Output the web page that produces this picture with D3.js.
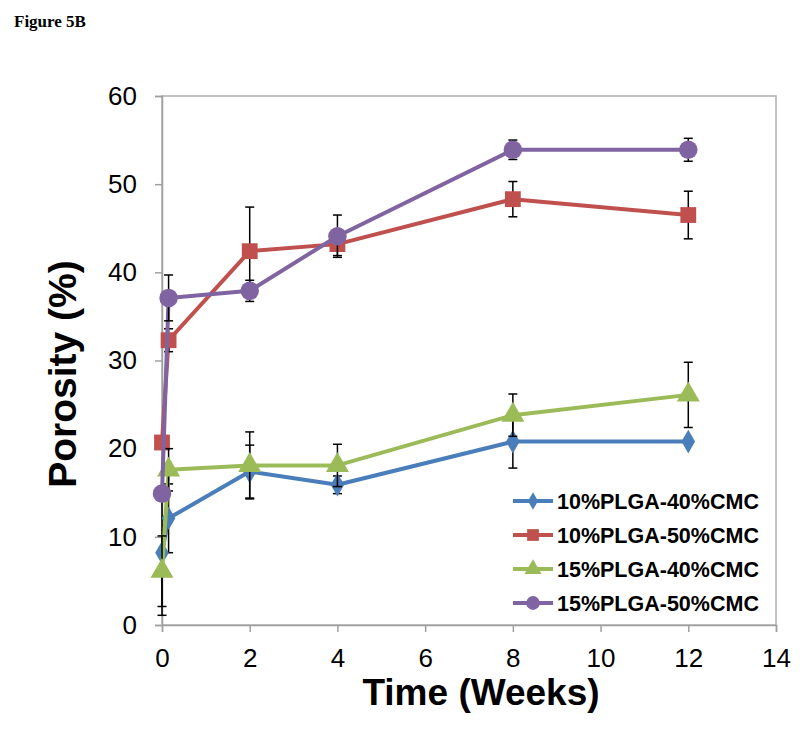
<!DOCTYPE html>
<html>
<head>
<meta charset="utf-8">
<script src="https://cdn.jsdelivr.net/npm/d3@7"></script>
<style>
  body { margin: 0; background: #fff; }
  svg { display: block; }
</style>
</head>
<body>
<svg id="chart" width="800" height="749"></svg>
<script>
// ---- data ----
const weeks = [0, 0.15, 2, 4, 8, 12];
const seriesNames = ["10%PLGA-40%CMC", "10%PLGA-50%CMC", "15%PLGA-40%CMC", "15%PLGA-50%CMC"];
const plga10cmc40 = [8.2, 12.1, 17.4, 15.9, 20.8, 20.8];
const plga10cmc50 = [20.7, 32.3, 42.4, 43.2, 48.3, 46.5];
const plga15cmc40 = [6.1, 17.6, 18.1, 18.1, 23.8, 26.1];
const plga15cmc50 = [14.9, 37.1, 37.9, 44.1, 53.9, 53.9];
const err10_40 = [7.1, 3.9, 3.0, 1.0, 3.0, 0];
const err10_50 = [0.5, 1.3, 5.0, 1.3, 2.0, 2.7];
const err15_40 = [4.0, 2.4, 3.8, 2.4, 2.4, 3.7];
const err15_50 = [0.5, 2.6, 1.2, 2.4, 1.1, 1.3];
const xTicks = [0, 2, 4, 6, 8, 10, 12, 14];
const yTicks = [0, 10, 20, 30, 40, 50, 60];

const colors = ["#4A7EBB", "#C0504D", "#9BBB59", "#8064A2"];
const shapes = [d3.symbolDiamond, d3.symbolSquare, d3.symbolTriangle, d3.symbolCircle];
const sizes = [160, 250, 230, 270];

const series = [
  {name: seriesNames[0], values: plga10cmc40, err: err10_40},
  {name: seriesNames[1], values: plga10cmc50, err: err10_50},
  {name: seriesNames[2], values: plga15cmc40, err: err15_40},
  {name: seriesNames[3], values: plga15cmc50, err: err15_50}
];

const svg = d3.select("#chart");
const x = d3.scaleLinear().domain([0, 14]).range([162, 776]);
const y = d3.scaleLinear().domain([0, 60]).range([625, 96]);

// figure label
svg.append("text").attr("x", 14).attr("y", 27)
  .attr("font-family", "Liberation Serif, Times New Roman, serif")
  .attr("font-weight", "bold").attr("font-size", 17).text("Figure 5B");

// plot frame
svg.append("rect").attr("x", x(0)).attr("y", y(60))
  .attr("width", x(14) - x(0)).attr("height", y(0) - y(60))
  .attr("fill", "none").attr("stroke", "#B0B0B0").attr("stroke-width", 1.5);

// axes
const yAxis = svg.append("g").attr("transform", `translate(${x(0)},0)`)
  .call(d3.axisLeft(y).tickValues(yTicks).tickSize(7).tickPadding(18));
const xAxis = svg.append("g").attr("transform", `translate(0,${y(0)})`)
  .call(d3.axisBottom(x).tickValues(xTicks).tickSize(7).tickPadding(17));
[yAxis, xAxis].forEach(g => {
  g.select(".domain").attr("stroke", "#A0A0A0").attr("stroke-width", 1.5);
  g.selectAll(".tick line").attr("stroke", "#A0A0A0").attr("stroke-width", 1.5);
  g.selectAll(".tick text").attr("fill", "#000")
    .attr("font-family", "Liberation Sans, Arial, sans-serif").attr("font-size", 26);
});

// axis titles
svg.append("text").attr("x", 481).attr("y", 705).attr("text-anchor", "middle")
  .attr("font-family", "Liberation Sans, Arial, sans-serif").attr("font-weight", "bold")
  .attr("font-size", 37).text("Time (Weeks)");
svg.append("text").attr("transform", "translate(76,374) rotate(-90)").attr("text-anchor", "middle")
  .attr("font-family", "Liberation Sans, Arial, sans-serif").attr("font-weight", "bold")
  .attr("font-size", 39).text("Porosity (%)");

// series
const line = d3.line().x(d => x(d.w)).y(d => y(d.v));
series.forEach((s, i) => {
  const pts = weeks.map((w, j) => ({w, v: s.values[j], e: s.err[j]}));
  const g = svg.append("g");
  g.append("path").datum(pts).attr("d", line)
    .attr("fill", "none").attr("stroke", colors[i]).attr("stroke-width", 4)
    .attr("stroke-linejoin", "round");
  const eb = g.selectAll(".eb").data(pts.filter(p => p.e > 0)).enter().append("g");
  eb.append("line").attr("x1", d => x(d.w)).attr("x2", d => x(d.w))
    .attr("y1", d => y(d.v + d.e)).attr("y2", d => y(d.v - d.e))
    .attr("stroke", "#000").attr("stroke-width", 1.5);
  [1, -1].forEach(sgn => {
    eb.append("line").attr("x1", d => x(d.w) - 4.5).attr("x2", d => x(d.w) + 4.5)
      .attr("y1", d => y(d.v + sgn * d.e)).attr("y2", d => y(d.v + sgn * d.e))
      .attr("stroke", "#000").attr("stroke-width", 1.5);
  });
  g.selectAll(".mk").data(pts).enter().append("path")
    .attr("d", d3.symbol().type(shapes[i]).size(sizes[i]))
    .attr("transform", d => `translate(${x(d.w)},${y(d.v)})`)
    .attr("fill", colors[i]);
});

// legend
const legY = [501, 535, 569, 603];
series.forEach((s, i) => {
  const lg = svg.append("g").attr("transform", `translate(0,${legY[i]})`);
  lg.append("line").attr("x1", 513).attr("x2", 553).attr("y1", 0).attr("y2", 0)
    .attr("stroke", colors[i]).attr("stroke-width", 4);
  lg.append("path").attr("d", d3.symbol().type(shapes[i]).size(sizes[i] * 0.55))
    .attr("transform", "translate(533,0)").attr("fill", colors[i]);
  lg.append("text").attr("x", 557).attr("y", 7.5)
    .attr("font-family", "Liberation Sans, Arial, sans-serif").attr("font-weight", "bold")
    .attr("font-size", 21.5).text(s.name);
});
</script>
</body>
</html>
